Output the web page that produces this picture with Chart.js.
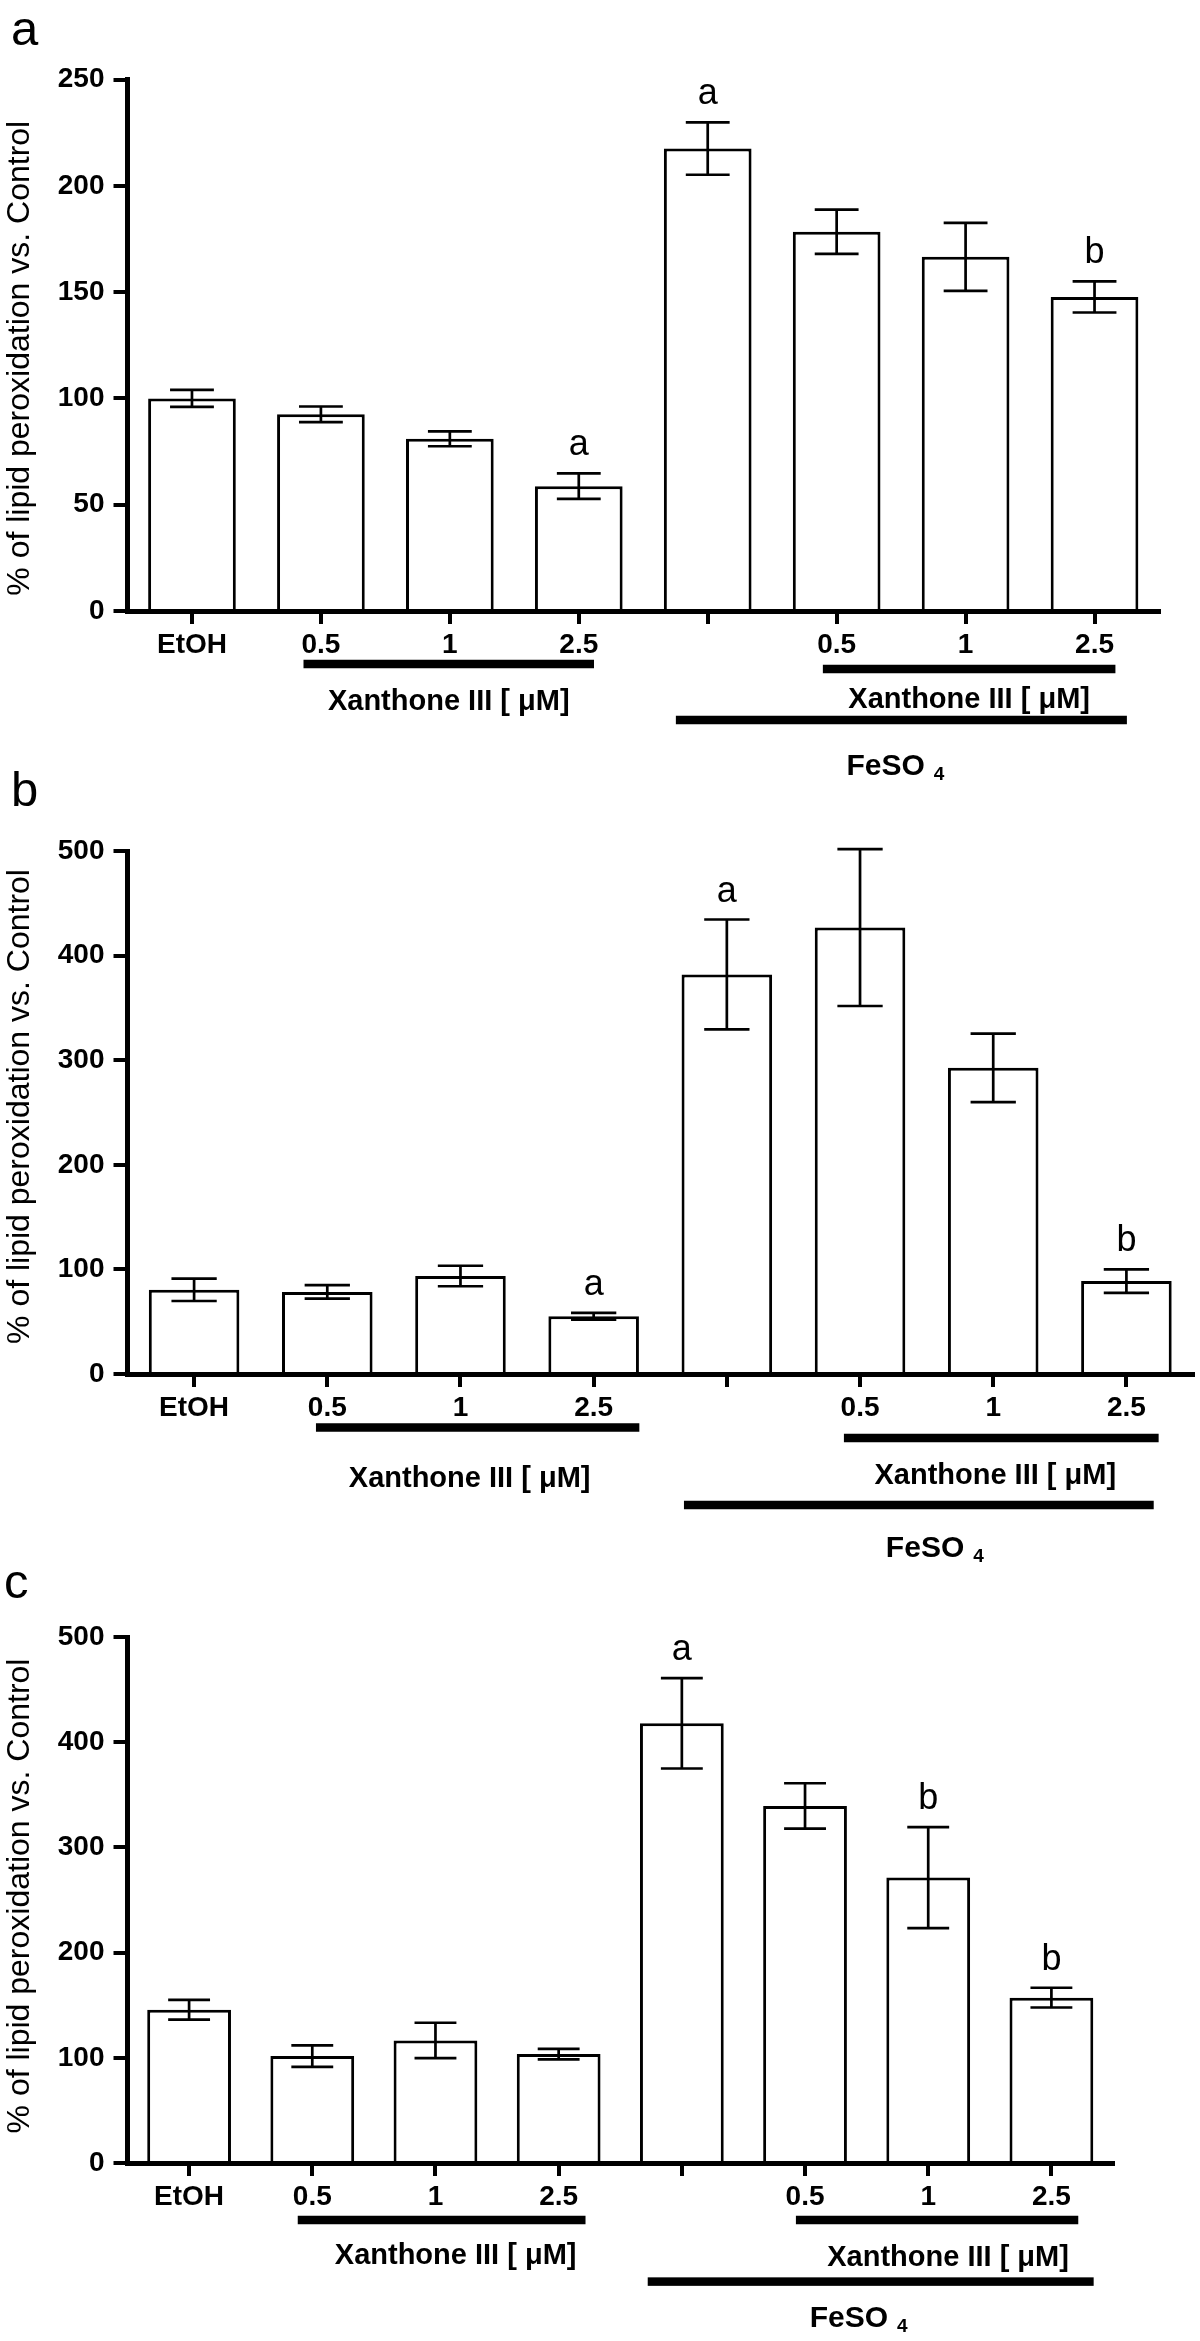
<!DOCTYPE html>
<html>
<head>
<meta charset="utf-8">
<script src="https://cdn.jsdelivr.net/npm/chart.js@4.4.0/dist/chart.umd.min.js"></script>
<style>
  html, body { margin: 0; padding: 0; background: #fff; }
  body { width: 1200px; height: 2341px; position: relative; overflow: hidden; }
  canvas { position: absolute; left: 0; }
</style>
</head>
<body>
<canvas id="chartA" width="1200" height="800" style="top:0px;width:1200px;height:800px"></canvas>
<canvas id="chartB" width="1200" height="820" style="top:760px;width:1200px;height:820px"></canvas>
<canvas id="chartC" width="1200" height="781" style="top:1560px;width:1200px;height:781px"></canvas>
<script>
// ---------------- DATA ----------------
const categories = ['EtOH', '0.5', '1', '2.5', '', '0.5', '1', '2.5'];

const valuesA = [100, 92.5, 81, 58.7, 217.5, 178.4, 166.6, 147.7];
const errorsA = [4, 3.7, 3.5, 6, 12.3, 10.4, 16, 7.3];
const signifA = ['', '', '', 'a', 'a', '', '', 'b'];
const yTicksA = [0, 50, 100, 150, 200, 250];

const valuesB = [80.5, 78.5, 93.7, 55.2, 382, 426.8, 292.7, 88.8];
const errorsB = [10.7, 6.5, 9.8, 3.2, 52.5, 75, 32.7, 11.2];
const signifB = ['', '', '', 'a', 'a', '', '', 'b'];
const yTicksB = [0, 100, 200, 300, 400, 500];

const valuesC = [145.7, 101.6, 116.5, 103.5, 418, 339.4, 271.3, 157.2];
const errorsC = [9.4, 10.3, 16.8, 5, 43, 21.6, 48, 9.4];
const signifC = ['', '', '', '', 'a', '', 'b', 'b'];
const yTicksC = [0, 100, 200, 300, 400, 500];

const yTitle = '% of lipid peroxidation vs. Control';
const xanthoneLabel = 'Xanthone III [ \u03BCM]';
const feLabel = 'FeSO';
const feSub = '4';
const panelLetters = ['a', 'b', 'c'];

// ---------------- STYLE / LAYOUT ----------------
const FONT = '"Liberation Sans", Arial, Helvetica, sans-serif';

function decorPlugin(cfg) {
  return {
    id: 'decor' + cfg.letter,
    afterDatasetsDraw(chart) {
      const ctx = chart.ctx;
      const ys = chart.scales.y;
      const meta = chart.getDatasetMeta(0);
      ctx.save();
      ctx.strokeStyle = '#000';
      ctx.fillStyle = '#000';
      ctx.lineWidth = 2.7;
      meta.data.forEach((bar, i) => {
        const v = cfg.values[i], e = cfg.errors[i];
        const cx = bar.x;
        const hw = bar.width * 0.25;
        const yt = ys.getPixelForValue(v + e);
        const yb = ys.getPixelForValue(v - e);
        ctx.beginPath();
        ctx.moveTo(cx, yt); ctx.lineTo(cx, yb);
        ctx.moveTo(cx - hw, yt); ctx.lineTo(cx + hw, yt);
        ctx.moveTo(cx - hw, yb); ctx.lineTo(cx + hw, yb);
        ctx.stroke();
        if (cfg.signif[i]) {
          ctx.font = '36px ' + FONT;
          ctx.textAlign = 'center';
          ctx.textBaseline = 'alphabetic';
          ctx.fillText(cfg.signif[i], cx, yt - 18);
        }
      });
      ctx.restore();
    },
    afterDraw(chart) {
      const ctx = chart.ctx;
      const xs = chart.scales.x;
      const area = chart.chartArea;
      const B = area.bottom;
      const step = xs.getPixelForValue(1) - xs.getPixelForValue(0);
      ctx.save();
      ctx.fillStyle = '#000';
      // y-axis title
      ctx.save();
      ctx.translate(20.5, (area.top + area.bottom) / 2 + cfg.titleDy);
      ctx.rotate(-Math.PI / 2);
      ctx.font = '32px ' + FONT;
      ctx.textAlign = 'center';
      ctx.textBaseline = 'middle';
      ctx.fillText(yTitle, 0, 0);
      ctx.restore();
      // group lines + labels
      cfg.groups.forEach(g => {
        const x1 = xs.getPixelForValue(g.from) + g.fromOff * step;
        const x2 = xs.getPixelForValue(g.to) + g.toOff * step;
        ctx.fillRect(x1, B + g.lineDy - 4.25, x2 - x1, 8.5);
        const mid = (x1 + x2) / 2 + g.labelDx;
        ctx.textBaseline = 'alphabetic';
        if (g.kind === 'xan') {
          ctx.font = 'bold 29px ' + FONT;
          ctx.textAlign = 'center';
          ctx.fillText(xanthoneLabel, mid, B + g.labelDy);
        } else {
          ctx.font = 'bold 30px ' + FONT;
          const w1 = ctx.measureText(feLabel).width;
          ctx.font = 'bold 19px ' + FONT;
          const w2 = ctx.measureText(feSub).width;
          const gap = 9;
          const start = mid - (w1 + gap + w2) / 2;
          ctx.textAlign = 'left';
          ctx.font = 'bold 30px ' + FONT;
          ctx.fillText(feLabel, start, B + g.labelDy);
          ctx.font = 'bold 19px ' + FONT;
          ctx.fillText(feSub, start + w1 + gap, B + g.labelDy + 5);
        }
      });
      // panel letter
      ctx.font = '49px ' + FONT;
      ctx.textAlign = 'left';
      ctx.textBaseline = 'alphabetic';
      ctx.fillText(cfg.letter, cfg.letterX, cfg.letterY);
      ctx.restore();
    }
  };
}

function makeChart(id, cfg) {
  const gridOpts = (len) => ({
    display: true, drawOnChartArea: false, drawTicks: true,
    tickLength: len, tickWidth: 4, lineWidth: 4, color: '#000', offset: false
  });
  return new Chart(document.getElementById(id), {
    type: 'bar',
    data: {
      labels: categories,
      datasets: [{
        data: cfg.values,
        backgroundColor: '#ffffff',
        borderColor: '#000000',
        borderWidth: 3,
        borderSkipped: 'bottom',
        barPercentage: 0.68,
        categoryPercentage: 1.0
      }]
    },
    options: {
      responsive: false,
      maintainAspectRatio: false,
      animation: false,
      devicePixelRatio: 1,
      layout: { padding: { top: cfg.padTop, right: cfg.padRight, bottom: cfg.padBottom, left: 0 } },
      plugins: { legend: { display: false }, tooltip: { enabled: false }, title: { display: false } },
      scales: {
        x: {
          z: 1,
          offset: true,
          grid: gridOpts(13),
          border: { display: true, color: '#000', width: 5 },
          ticks: {
            color: '#000', autoSkip: false, maxRotation: 0, minRotation: 0, padding: 4,
            font: { family: FONT, size: 28, weight: 'bold' }
          },
          afterFit: (s) => { s.height = 50; }
        },
        y: {
          z: 1,
          min: 0,
          max: cfg.ticks[cfg.ticks.length - 1],
          grid: gridOpts(14),
          border: { display: true, color: '#000', width: 5 },
          ticks: {
            color: '#000', padding: 9,
            font: { family: FONT, size: 28, weight: 'bold' }
          },
          afterBuildTicks: (s) => { s.ticks = cfg.ticks.map(v => ({ value: v })); },
          title: { display: false, text: yTitle },
          afterFit: (s) => { s.width = 127.5; }
        }
      }
    },
    plugins: [decorPlugin(cfg)]
  });
}

makeChart('chartA', {
  letter: panelLetters[0], letterX: 11, letterY: 45, titleDy: 13,
  values: valuesA, errors: errorsA, signif: signifA, ticks: yTicksA,
  padTop: 79.5, padRight: 41, padBottom: 139,
  groups: [
    { kind: 'xan', from: 1, fromOff: -0.135, to: 3, toOff: 0.118, lineDy: 53, labelDy: 99, labelDx: 0 },
    { kind: 'xan', from: 5, fromOff: -0.107, to: 7, toOff: 0.162, lineDy: 58, labelDy: 97, labelDx: 0 },
    { kind: 'fe', from: 4, fromOff: -0.247, to: 7, toOff: 0.251, lineDy: 109, labelDy: 164, labelDx: -6 }
  ]
});

makeChart('chartB', {
  letter: panelLetters[1], letterX: 11, letterY: 46, titleDy: -6,
  values: valuesB, errors: errorsB, signif: signifB, ticks: yTicksB,
  padTop: 91, padRight: 7, padBottom: 156,
  groups: [
    { kind: 'xan', from: 1, fromOff: -0.085, to: 3, toOff: 0.343, lineDy: 53.5, labelDy: 113, labelDx: -8 },
    { kind: 'xan', from: 5, fromOff: -0.121, to: 7, toOff: 0.242, lineDy: 64, labelDy: 110, labelDx: -6 },
    { kind: 'fe', from: 4, fromOff: -0.322, to: 7, toOff: 0.205, lineDy: 131, labelDy: 183, labelDx: 16 }
  ]
});

makeChart('chartC', {
  letter: panelLetters[2], letterX: 4, letterY: 38, titleDy: -4,
  values: valuesC, errors: errorsC, signif: signifC, ticks: yTicksC,
  padTop: 77, padRight: 87, padBottom: 128,
  groups: [
    { kind: 'xan', from: 1, fromOff: -0.118, to: 3, toOff: 0.218, lineDy: 57, labelDy: 101, labelDx: 14 },
    { kind: 'xan', from: 5, fromOff: -0.074, to: 7, toOff: 0.218, lineDy: 57, labelDy: 103, labelDx: 11 },
    { kind: 'fe', from: 4, fromOff: -0.277, to: 7, toOff: 0.343, lineDy: 118.6, labelDy: 164, labelDx: -12 }
  ]
});
</script>
</body>
</html>
